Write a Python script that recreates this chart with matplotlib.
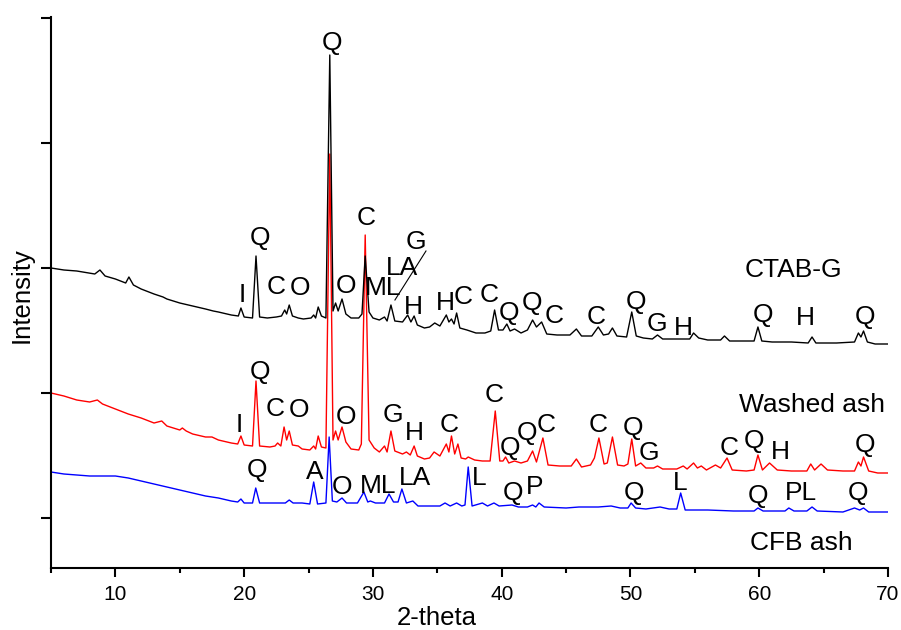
import matplotlib
matplotlib.use("Agg")
import matplotlib.pyplot as plt
from matplotlib.ticker import MultipleLocator

plt.rcParams['font.family'] = ['Liberation Sans', 'DejaVu Sans']

# ---------------- data (2-theta, intensity a.u.) ----------------
ctab_x = [5.0, 6.0, 7.0, 8.4, 8.8, 9.2, 10.0, 10.8, 11.05, 11.4, 12.0, 13.0, 13.7, 14.0, 15.0, 16.0,
          17.0, 17.6, 18.0, 19.0, 19.55, 19.75, 20.0, 20.65, 20.92, 21.2, 21.8, 22.5, 22.9, 23.15,
          23.3, 23.5, 23.75, 24.2, 24.6, 25.2, 25.4, 25.55, 25.75, 26.0, 26.35, 26.65, 26.9, 27.1,
          27.3, 27.6, 27.9, 28.3, 28.9, 29.15, 29.4, 29.7, 30.0, 30.5, 30.9, 31.1, 31.4, 31.7, 32.3,
          32.7, 32.95, 33.2, 33.45, 34.0, 34.4, 34.8, 35.2, 35.7, 35.9, 36.1, 36.3, 36.5, 36.75,
          37.3, 38.0, 38.7, 39.15, 39.45, 39.75, 40.1, 40.4, 40.65, 41.0, 41.5, 42.0, 42.4, 42.7,
          43.1, 43.5, 44.3, 45.3, 45.8, 46.2, 47.0, 47.5, 47.9, 48.3, 48.6, 48.95, 49.7, 50.1,
          50.45, 51.0, 51.7, 52.1, 52.5, 53.5, 54.6, 54.9, 55.3, 56.0, 57.0, 57.3, 57.7, 59.0,
          59.6, 59.9, 60.2, 61.0, 62.5, 63.8, 64.1, 64.4, 66.0, 67.4, 67.7, 67.9, 68.1, 68.4,
          69.0, 70.0]
ctab_y = [2000, 1984, 1976, 1952, 1984, 1936, 1912, 1880, 1928, 1864, 1832, 1792, 1768, 1752, 1720, 1696,
          1672, 1656, 1648, 1624, 1616, 1680, 1608, 1600, 2096, 1608, 1600, 1608, 1616, 1664,
          1632, 1704, 1616, 1600, 1592, 1600, 1624, 1600, 1688, 1616, 1600, 3704, 1656, 1720,
          1656, 1752, 1632, 1600, 1600, 1632, 2096, 1648, 1600, 1584, 1608, 1576, 1704, 1576, 1568,
          1624, 1568, 1616, 1544, 1520, 1528, 1560, 1536, 1624, 1568, 1592, 1552, 1640, 1520,
          1504, 1480, 1480, 1496, 1664, 1504, 1504, 1552, 1496, 1512, 1480, 1504, 1584, 1528,
          1568, 1472, 1464, 1464, 1512, 1456, 1456, 1528, 1464, 1472, 1520, 1456, 1448, 1648,
          1456, 1440, 1432, 1464, 1432, 1432, 1432, 1480, 1440, 1424, 1424, 1456, 1416, 1416,
          1416, 1528, 1416, 1408, 1408, 1400, 1448, 1400, 1400, 1408, 1480, 1448, 1496, 1408,
          1392, 1392]

washed_x = [5.0, 6.0, 7.0, 8.0, 8.6, 9.0, 10.0, 11.0, 12.0, 13.0, 13.6, 14.0, 15.0, 15.2, 15.5, 16.0,
            17.0, 17.5, 18.0, 19.0, 19.5, 19.75, 20.0, 20.65, 20.92, 21.2, 22.0, 22.4, 22.6, 22.85,
            23.1, 23.3, 23.5, 23.75, 24.2, 24.5, 25.1, 25.4, 25.55, 25.75, 26.0, 26.35, 26.65, 26.9,
            27.1, 27.3, 27.6, 27.9, 28.3, 28.9, 29.1, 29.4, 29.7, 30.1, 30.5, 30.9, 31.1, 31.4, 31.7,
            32.3, 32.6, 32.9, 33.2, 33.45, 34.0, 34.4, 34.75, 35.2, 35.7, 35.9, 36.1, 36.35, 36.6,
            36.85, 37.2, 37.4, 37.9, 38.5, 39.1, 39.5, 39.85, 40.1, 40.3, 40.55, 41.0, 41.5, 42.0,
            42.4, 42.7, 43.2, 43.6, 44.5, 45.4, 45.8, 46.2, 46.9, 47.2, 47.55, 47.95, 48.2, 48.6,
            49.0, 49.5, 49.8, 50.1, 50.4, 50.8, 51.2, 51.8, 52.1, 52.5, 53.6, 54.1, 54.4, 54.9,
            55.2, 55.5, 55.9, 56.6, 57.0, 57.5, 57.9, 59.0, 59.6, 59.9, 60.25, 60.8, 61.4, 62.5,
            63.7, 64.0, 64.3, 64.8, 65.3, 66.5, 67.4, 67.7, 67.9, 68.1, 68.5, 69.2, 70.0]
washed_y = [1000, 976, 944, 928, 944, 912, 872, 832, 800, 760, 776, 736, 704, 720, 696, 672,
            648, 648, 624, 600, 592, 656, 584, 576, 1096, 576, 568, 576, 600, 576,
            728, 624, 696, 584, 576, 552, 544, 576, 552, 656, 568, 560, 2912, 624,
            696, 624, 728, 608, 552, 544, 592, 2264, 624, 560, 528, 576, 528, 696, 536,
            512, 528, 504, 576, 496, 472, 480, 528, 496, 592, 528, 656, 512, 592,
            480, 472, 488, 464, 456, 456, 856, 456, 456, 488, 440, 456, 440, 456,
            536, 448, 640, 424, 416, 416, 472, 408, 424, 480, 640, 432, 440, 648,
            424, 416, 432, 632, 416, 440, 400, 400, 416, 392, 392, 416, 392, 440,
            400, 416, 384, 424, 400, 480, 384, 376, 384, 504, 384, 440, 384, 376,
            376, 432, 384, 432, 384, 376, 376, 448, 416, 488, 376, 360, 360]

cfb_x = [5.0, 6.0, 7.0, 8.0, 9.0, 10.0, 11.0, 12.0, 13.0, 14.0, 15.0, 16.0, 17.0, 18.0, 19.0, 19.5,
         19.75, 20.0, 20.65, 20.9, 21.2, 22.0, 23.2, 23.5, 23.8, 24.5, 25.1, 25.4, 25.7, 26.35,
         26.6, 26.85, 27.2, 27.6, 27.95, 28.8, 29.3, 29.6, 29.8, 30.2, 30.9, 31.25, 31.6, 31.95,
         32.25, 32.6, 33.1, 33.5, 35.2, 35.6, 36.0, 36.5, 36.9, 37.15, 37.4, 37.7, 38.5, 38.9,
         39.4, 39.8, 40.8, 41.3, 42.0, 42.4, 42.65, 42.9, 43.3, 45.0, 46.0, 47.5, 48.5, 49.2,
         49.8, 50.05, 50.4, 51.2, 52.3, 53.0, 53.6, 53.9, 54.25, 56.0, 58.0, 59.6, 59.9, 60.3,
         62.0, 62.3, 62.7, 63.7, 64.1, 64.5, 66.5, 67.4, 67.8, 68.1, 68.5, 70.0]
cfb_y = [368, 352, 344, 336, 336, 336, 320, 296, 272, 248, 224, 200, 176, 160, 136, 128,
         152, 120, 120, 240, 120, 120, 120, 144, 120, 120, 112, 288, 112, 120,
         648, 136, 128, 160, 120, 120, 208, 128, 136, 120, 120, 192, 128, 128,
         232, 120, 136, 96, 96, 120, 96, 120, 96, 104, 408, 96, 120, 96,
         120, 96, 104, 88, 88, 104, 88, 120, 88, 80, 88, 88, 96, 80,
         80, 120, 80, 72, 88, 72, 72, 200, 64, 64, 56, 56, 80, 56,
         56, 80, 56, 56, 88, 56, 48, 80, 64, 80, 48, 48]

# peak labels: text, 2-theta, intensity
ctab_labels = [("Q", 26.82, 3800), ("Q", 21.23, 2240), ("I", 19.83, 1784), ("C", 22.47, 1848),
               ("O", 24.34, 1840), ("O", 27.91, 1856), ("C", 29.46, 2400), ("ML", 30.78, 1840),
               ("LA", 32.26, 2000), ("G", 33.35, 2208), ("H", 33.11, 1688), ("H", 35.60, 1720),
               ("C", 36.99, 1768), ("C", 39.01, 1784), ("Q", 40.57, 1640), ("Q", 42.35, 1720),
               ("C", 44.06, 1616), ("C", 47.32, 1608), ("Q", 50.43, 1728), ("G", 52.06, 1552),
               ("H", 54.08, 1520), ("Q", 60.29, 1624), ("H", 63.55, 1600), ("Q", 68.21, 1608)]
washed_labels = [("Q", 21.23, 1168), ("I", 19.60, 744), ("C", 22.40, 872), ("O", 24.26, 864),
                 ("O", 27.91, 808), ("G", 31.56, 824), ("H", 33.19, 680), ("C", 35.91, 744),
                 ("C", 39.40, 984), ("Q", 40.64, 560), ("Q", 41.97, 680), ("C", 43.44, 744),
                 ("C", 47.48, 744), ("Q", 50.20, 720), ("G", 51.44, 520), ("C", 57.65, 560),
                 ("Q", 59.59, 616), ("H", 61.61, 528), ("Q", 68.21, 584)]
cfb_labels = [("Q", 21.00, 384), ("A", 25.50, 368), ("O", 27.60, 248), ("ML", 30.39, 256),
              ("LA", 33.27, 320), ("L", 38.24, 320), ("Q", 40.88, 200), ("P", 42.59, 248),
              ("Q", 50.27, 200), ("L", 53.85, 280), ("Q", 59.90, 176), ("PL", 63.24, 200),
              ("Q", 67.67, 200)]

series_names = ["CTAB-G", "Washed ash", "CFB ash"]
series_name_pos = [(62.62, 1984), (64.10, 904), (63.24, -200)]
leader_x = [34.12, 31.71]
leader_y = [2136, 1744]

# ---------------- figure ----------------
fig = plt.figure(figsize=(9.01, 6.30), dpi=100)
ax = fig.add_axes([51/901, 62/630, 837/901, 551/630])

ax.plot(cfb_x, cfb_y, color="#0000ff", lw=1.0)
ax.plot(washed_x, washed_y, color="#ff0000", lw=1.0)
ax.plot(ctab_x, ctab_y, color="#000000", lw=1.0)
ax.plot(leader_x, leader_y, color="black", lw=0.8)

fs = 19
for labels in (ctab_labels, washed_labels, cfb_labels):
    for t, x, y in labels:
        ax.text(x, y, t, fontsize=fs, ha="center", va="center")
for name, (x, y) in zip(series_names, series_name_pos):
    ax.text(x, y, name, fontsize=fs, ha="center", va="center")

ax.set_xlim(5, 70)
ax.set_ylim(-400, 4008)
ax.xaxis.set_major_locator(MultipleLocator(10))
ax.xaxis.set_minor_locator(MultipleLocator(5))
ax.yaxis.set_major_locator(MultipleLocator(1000))
ax.set_yticklabels([])
ax.spines["top"].set_visible(False)
ax.spines["right"].set_visible(False)
for s in ("left", "bottom"):
    ax.spines[s].set_linewidth(1.5)
ax.tick_params(axis="x", which="major", direction="out", length=6.5, width=1.5, labelsize=15, pad=6)
ax.tick_params(axis="x", which="minor", direction="out", length=3.5, width=1.5)
ax.tick_params(axis="y", which="major", direction="out", length=7, width=1.5)

ax.set_xlabel("2-theta", fontsize=18.5)
ax.xaxis.set_label_coords((437-51)/837, (568-618)/551)
ax.xaxis.label.set_va("center")
ax.set_ylabel("Intensity", fontsize=18.5)
ax.yaxis.set_label_coords((22-51)/837, (568-295)/551)
ax.yaxis.label.set_va("center")

fig.savefig("out.png", dpi=100)
